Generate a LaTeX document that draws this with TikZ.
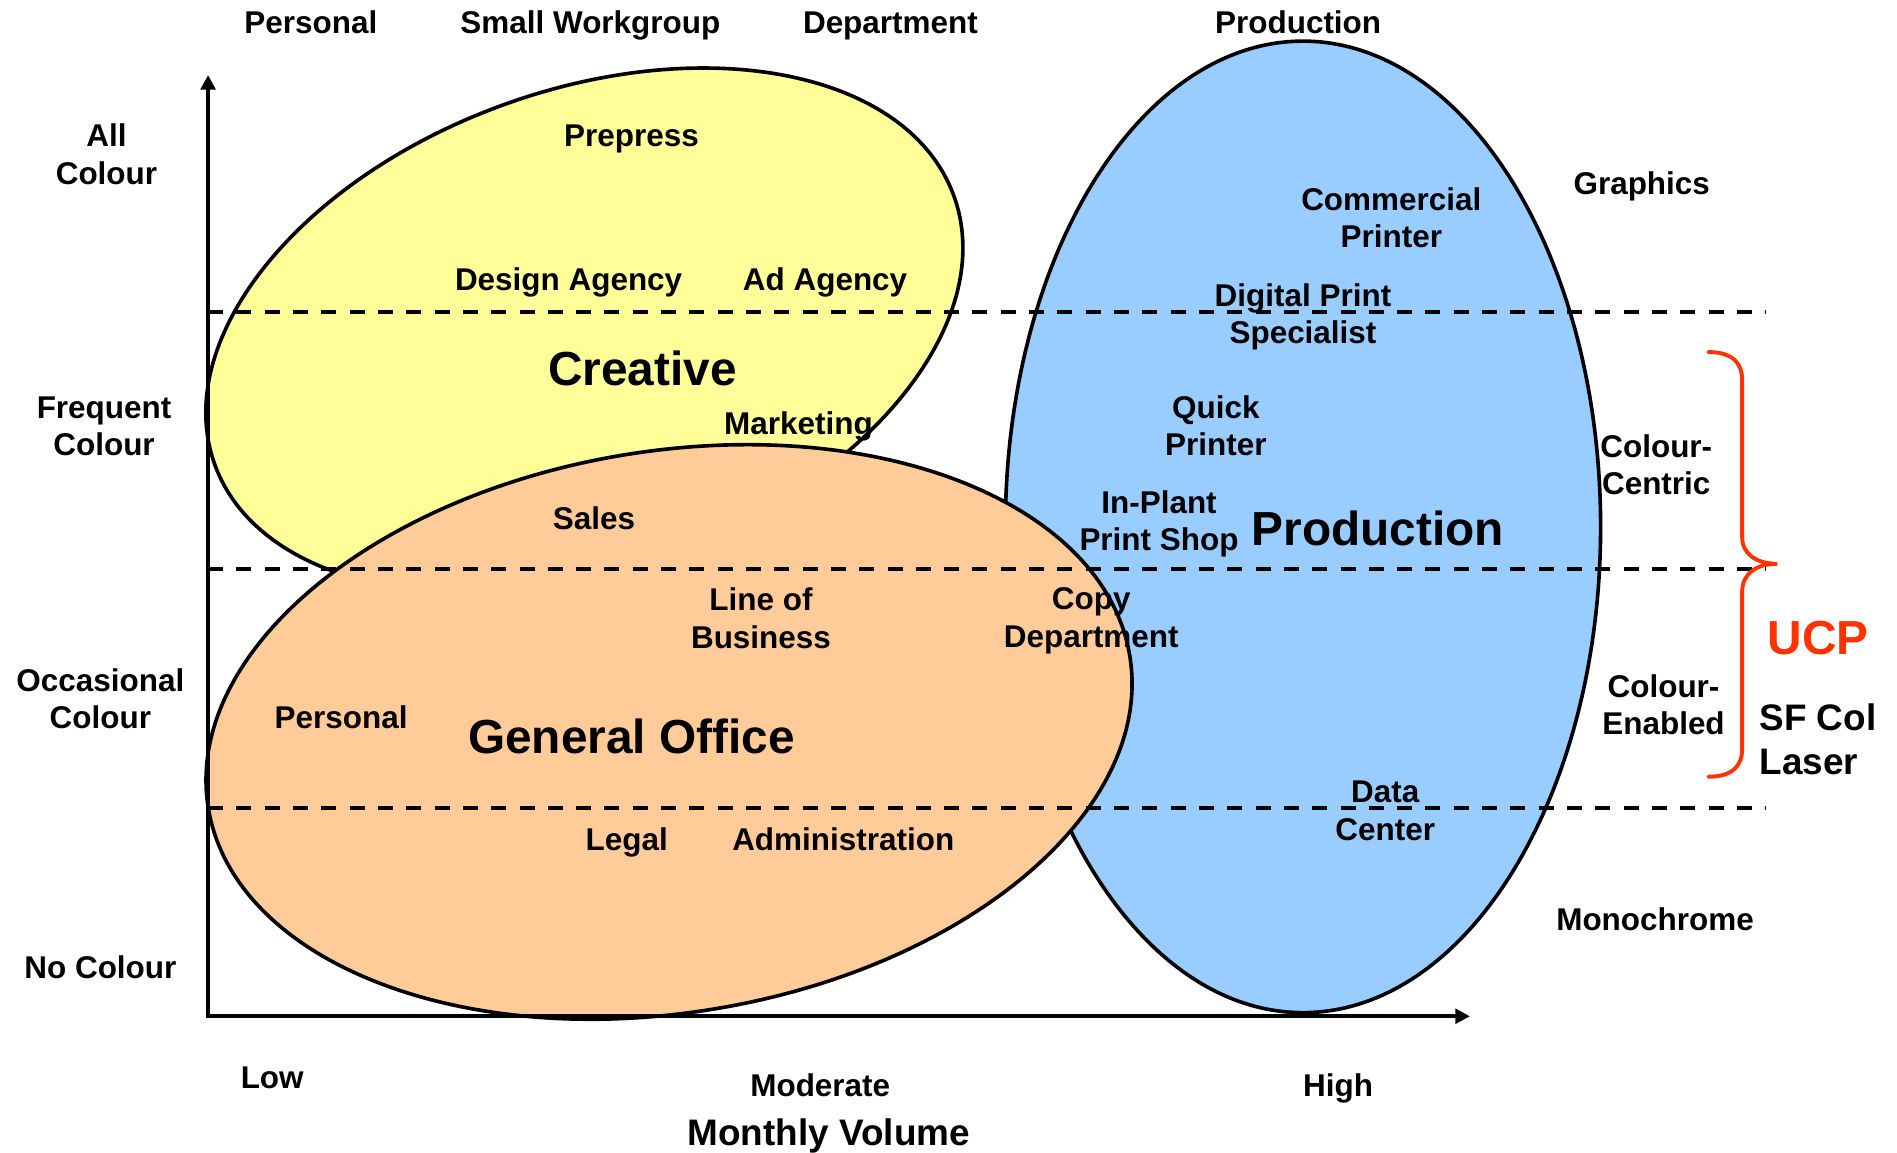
\documentclass[tikz,border=0pt]{standalone}
\usepackage{fontspec}
\setmainfont{Liberation Sans}
\usepackage{xcolor}
\usepackage{tikz}
\usetikzlibrary{arrows.meta,positioning}
\definecolor{creativeyellow}{RGB}{255, 255, 153}
\definecolor{officeorange}{RGB}{255, 204, 153}
\definecolor{productionblue}{RGB}{153, 204, 255}
\definecolor{ucpred}{RGB}{255, 51, 0}

\tikzset{
    lbl/.style={font=\fontsize{13}{15.5}\selectfont\bfseries, inner sep=0pt, align=center},
    biglbl/.style={font=\fontsize{19.75}{23}\selectfont\bfseries, inner sep=0pt},
    midlbl/.style={font=\fontsize{15.25}{18}\selectfont\bfseries, inner sep=0pt},
    segment/.style={draw=black, line width=1.5pt},
    levelline/.style={line width=1.6pt, dash pattern=on 6.2pt off 5.5pt},
    axis/.style={line width=1.5pt, line join=miter}
}

\begin{document}
\begin{tikzpicture}[x=0.5pt, y=-0.5pt, >={Triangle[length=6pt, width=6pt]}]
    \useasboundingbox (0,0) rectangle (1568,953);

    % the three market segments
    \filldraw [segment, fill=creativeyellow, rotate around={20:(483,273)}] (483,273) ellipse [x radius=325, y radius=198];
    \filldraw [segment, fill=productionblue] (1077,435.5) ellipse [x radius=246, y radius=401.5];
    \filldraw [segment, fill=officeorange, rotate around={9.4:(553,605)}] (553,605) ellipse [x radius=386, y radius=232];

    % colour usage bands
    \draw [levelline] (172,258) -- (1460,258);
    \draw [levelline] (172,470) -- (1460,470);
    \draw [levelline] (172,668) -- (1460,668);

    % axes
    \coordinate (ytop) at (172,62);
    \coordinate (xend) at (1215,840);
    \draw [axis, <->] (ytop) |- (xend);

    % group size along the top
    \node [lbl, anchor=base] (toppersonal) at (257,28) {Personal};
    \node [lbl, anchor=base] (workgroup) at (488,28) {Small Workgroup};
    \node [lbl, anchor=base] (department) at (736,28) {Department};
    \node [lbl, anchor=base] (topproduction) at (1073,28) {Production};

    % colour levels on the left
    \node [lbl] (allcolour) at (88,127.5) {All\\Colour};
    \node [lbl] (frequent) at (86,352.5) {Frequent\\Colour};
    \node [lbl] (occasional) at (83,577.5) {Occasional\\Colour};
    \node [lbl, anchor=base] (nocolour) at (83,809) {No Colour};

    % volume axis
    \node [lbl, anchor=base] (low) at (225,900) {Low};
    \node [lbl, anchor=base] (moderate) at (678,906) {Moderate};
    \node [lbl, anchor=base] (high) at (1106,906) {High};
    \node [midlbl, below=9pt of moderate, xshift=3.5pt] (volume) {Monthly Volume};

    % Creative
    \node [lbl, anchor=base] (prepress) at (522,121) {Prepress};
    \node [lbl, anchor=base] (designagency) at (470,240) {Design Agency};
    \node [lbl, anchor=base] (adagency) at (682,240) {Ad Agency};
    \node [biglbl, anchor=base] (creative) at (531,319) {Creative};
    \node [lbl, anchor=base] (marketing) at (660,359) {Marketing};

    % General Office
    \node [lbl, anchor=base] (sales) at (491,438) {Sales};
    \node [lbl] (lineofbusiness) at (629,511) {Line of\\Business};
    \node [lbl] (copydept) at (902,513) {Copy\\Department};
    \node [lbl, anchor=base] (personal) at (282,602) {Personal};
    \node [biglbl, anchor=base] (generaloffice) at (522,623) {General Office};
    \node [lbl, anchor=base] (legal) at (518,703) {Legal};
    \node [lbl, anchor=base] (administration) at (697,703) {Administration};

    % Production
    \node [lbl] (commercial) at (1150,180) {Commercial\\Printer};
    \node [lbl] (digitalprint) at (1077,262) {Digital Print\\Specialist};
    \node [lbl] (quickprinter) at (1005,352) {Quick\\Printer};
    \node [lbl] (inplant) at (958,433) {In-Plant\\Print Shop};
    \node [biglbl, anchor=base] (production) at (1139,451) {Production};
    \node [lbl] (datacenter) at (1145,670) {Data\\Center};

    % device classes on the right
    \node [lbl, anchor=base] (graphics) at (1357,161) {Graphics};
    \node [lbl] (colourcentric) at (1369,384) {Colour-\\Centric};
    \node [lbl] (colourenabled) at (1375,582.5) {Colour-\\Enabled};
    \node [lbl, anchor=base] (monochrome) at (1368,769) {Monochrome};

    % UCP bracket
    \draw [ucpred, line width=1.6pt, line cap=round]
        (1412,291) .. controls (1432,291) and (1440,300) .. (1440,314)
        -- (1440,444) .. controls (1440,458) and (1452,466) .. (1469,466)
        .. controls (1452,466) and (1440,474) .. (1440,489)
        -- (1440,619) .. controls (1440,633) and (1432,642) .. (1412,642);
    \node [biglbl, anchor=base, text=ucpred] (ucp) at (1503,541) {UCP};
    \node [midlbl, anchor=west, align=left] (sfcol) at (1454,611) {SF Col\\Laser};
\end{tikzpicture}
\end{document}
